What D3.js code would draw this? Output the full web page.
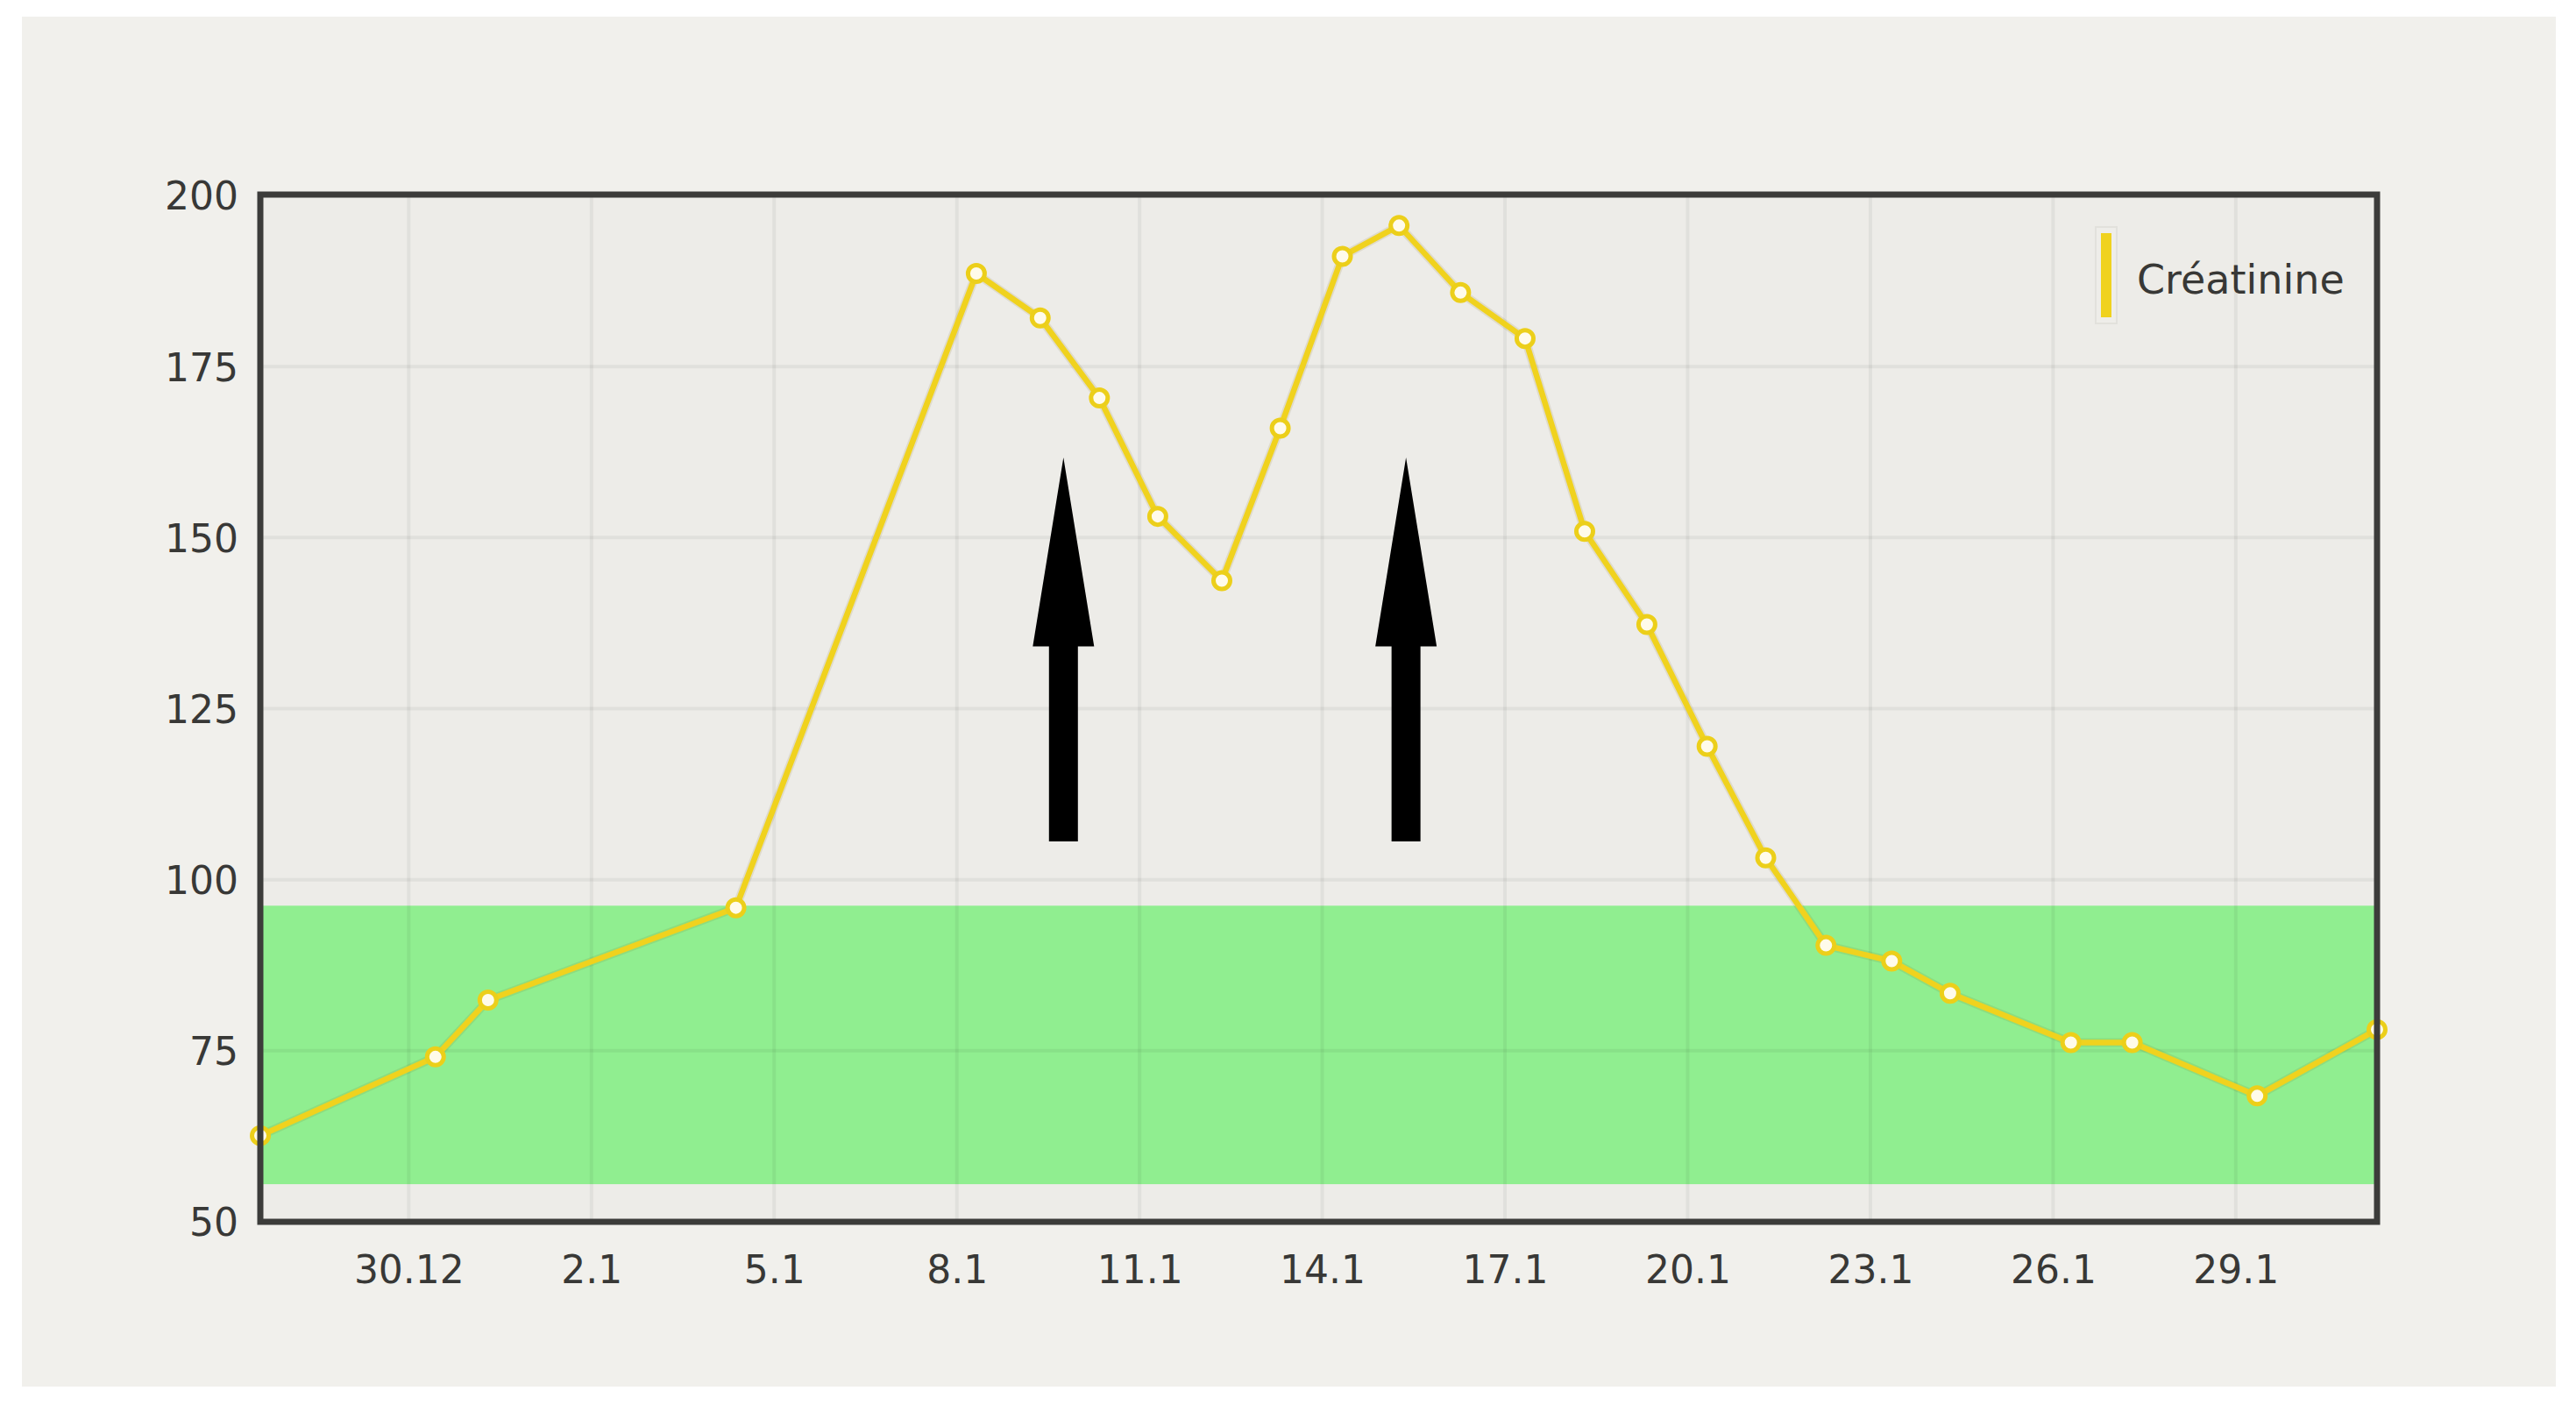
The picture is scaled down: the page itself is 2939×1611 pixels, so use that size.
<!DOCTYPE html>
<html>
<head>
<meta charset="utf-8">
<script src="https://cdn.jsdelivr.net/npm/d3@7"></script>
<style>
  html, body { margin: 0; padding: 0; background: #ffffff; }
  svg { display: block; }
</style>
</head>
<body>
<svg id="chart" width="2939" height="1611"></svg>
<script>
// ---- data ----
const seriesName = "Créatinine";
const dates = [
  "2011-12-27T13:30", "2011-12-30T10:30", "2011-12-31T07:15", "2012-01-04T08:55",
  "2012-01-08T07:40", "2012-01-09T08:50", "2012-01-10T08:10", "2012-01-11T07:10",
  "2012-01-12T08:25", "2012-01-13T07:25", "2012-01-14T07:55", "2012-01-15T06:15",
  "2012-01-16T06:30", "2012-01-17T07:55", "2012-01-18T07:25", "2012-01-19T07:55",
  "2012-01-20T07:40", "2012-01-21T06:45", "2012-01-22T06:30", "2012-01-23T08:25",
  "2012-01-24T07:25", "2012-01-26T07:00", "2012-01-27T07:10", "2012-01-29T08:25",
  "2012-01-31T07:40"
];
const values = [
  62.6, 74.1, 82.4, 95.9,
  188.6, 182.1, 170.4, 153.1,
  143.7, 166.0, 191.1, 195.6,
  185.8, 179.1, 150.9, 137.3,
  119.5, 103.2, 90.4, 88.1,
  83.4, 76.2, 76.2, 68.4,
  78.1
];
const tickDates = [
  "2011-12-30T00:00", "2012-01-02T00:00", "2012-01-05T00:00", "2012-01-08T00:00",
  "2012-01-11T00:00", "2012-01-14T00:00", "2012-01-17T00:00", "2012-01-20T00:00",
  "2012-01-23T00:00", "2012-01-26T00:00", "2012-01-29T00:00"
];
const tickLabels = ["30.12", "2.1", "5.1", "8.1", "11.1", "14.1", "17.1", "20.1", "23.1", "26.1", "29.1"];
const yTicks = [50, 75, 100, 125, 150, 175, 200];
const normalRange = [55.5, 96.2];
const arrowDates = ["2012-01-09T18:00", "2012-01-15T09:00"];
const arrowLevels = [105.6, 134.1, 161.7]; // bottom, head base, tip

(function () {
// ---- setup ----
const parse = d3.timeParse("%Y-%m-%dT%H:%M");
const data = dates.map((d, i) => ({ date: parse(d), value: values[i] }));
const ticks = tickDates.map(parse);

const svg = d3.select("#chart");
const W = 2939, H = 1611;
const pLeft = 297, pRight = 2712, pTop = 223, pBottom = 1394;

const x = d3.scaleTime().domain(d3.extent(data, d => d.date)).range([pLeft, pRight]);
const y = d3.scaleLinear().domain([50, 200]).range([pBottom, pTop]);

// page panel
svg.append("rect").attr("x", 0).attr("y", 0).attr("width", W).attr("height", H).attr("fill", "#ffffff");
svg.append("rect").attr("x", 25).attr("y", 19).attr("width", 2891).attr("height", 1563).attr("fill", "#f1f0ec");

// plot background
svg.append("rect").attr("x", pLeft).attr("y", pTop).attr("width", pRight - pLeft).attr("height", pBottom - pTop)
  .attr("fill", "#edece8");

// normal range band
svg.append("rect")
  .attr("x", pLeft).attr("width", pRight - pLeft)
  .attr("y", y(normalRange[1])).attr("height", y(normalRange[0]) - y(normalRange[1]))
  .attr("fill", "#90ee90");

// grid lines
const grid = svg.append("g");
grid.selectAll("line.v").data(ticks).join("line")
  .attr("x1", d => x(d)).attr("x2", d => x(d))
  .attr("y1", pTop).attr("y2", pBottom)
  .attr("stroke", "rgba(0,0,0,0.05)").attr("stroke-width", 4);
grid.selectAll("line.h").data(yTicks).join("line")
  .attr("x1", pLeft).attr("x2", pRight)
  .attr("y1", d => y(d)).attr("y2", d => y(d))
  .attr("stroke", "rgba(0,0,0,0.05)").attr("stroke-width", 4);

// axes (labels via d3 axes)
const yAxis = d3.axisLeft(y).tickValues(yTicks).tickSize(0).tickPadding(0).tickFormat(d3.format("d"));
const gy = svg.append("g").attr("transform", `translate(${pLeft - 25},0)`).call(yAxis);
gy.select(".domain").remove();
gy.selectAll("text")
  .attr("font-family", "'DejaVu Sans', Verdana, sans-serif")
  .attr("font-size", 44).attr("fill", "#383836").attr("dy", "0.36em");

const xAxis = d3.axisBottom(x).tickValues(ticks).tickSize(0).tickPadding(0)
  .tickFormat((d, i) => tickLabels[i]);
const gx = svg.append("g").attr("transform", `translate(0,${pBottom + 38})`).call(xAxis);
gx.select(".domain").remove();
gx.selectAll("text")
  .attr("font-family", "'DejaVu Sans', Verdana, sans-serif")
  .attr("font-size", 44).attr("fill", "#383836").attr("dy", "0.72em");

// arrows
const arrowG = svg.append("g");
arrowDates.forEach(ad => {
  const cx = x(parse(ad));
  const yb = y(arrowLevels[0]), yh = y(arrowLevels[1]), yt = y(arrowLevels[2]);
  const sw = 16.5, hw = 35;
  const pts = [
    [cx - sw, yb], [cx - sw, yh], [cx - hw, yh], [cx, yt],
    [cx + hw, yh], [cx + sw, yh], [cx + sw, yb]
  ];
  arrowG.append("polygon").attr("points", pts.map(p => p.join(",")).join(" ")).attr("fill", "#000000");
});

// series line
const line = d3.line().x(d => x(d.date)).y(d => y(d.value));
svg.append("path").datum(data)
  .attr("d", line).attr("fill", "none")
  .attr("stroke", "rgba(120,100,0,0.12)").attr("stroke-width", 10)
  .attr("stroke-linejoin", "round");
svg.append("path").datum(data)
  .attr("d", line).attr("fill", "none")
  .attr("stroke", "#f0d21e").attr("stroke-width", 6.5)
  .attr("stroke-linejoin", "round");

// markers
svg.selectAll("circle.pt").data(data).join("circle")
  .attr("cx", d => x(d.date)).attr("cy", d => y(d.value))
  .attr("r", 9.5).attr("fill", "#fffbea")
  .attr("stroke", "#eccf1a").attr("stroke-width", 5);

// frame
svg.append("rect").attr("x", pLeft).attr("y", pTop - 1).attr("width", pRight - pLeft).attr("height", pBottom - pTop + 1)
  .attr("fill", "none").attr("stroke", "#3c3c3a").attr("stroke-width", 7);

// legend
const lg = svg.append("g");
lg.append("rect").attr("x", 2391).attr("y", 259).attr("width", 24).attr("height", 110)
  .attr("fill", "#eeede9").attr("stroke", "#e2e1dc").attr("stroke-width", 2);
lg.append("rect").attr("x", 2397).attr("y", 266).attr("width", 12).attr("height", 96)
  .attr("fill", "#f0d21e");
lg.append("text").attr("x", 2438).attr("y", 335)
  .attr("font-family", "'DejaVu Sans', Verdana, sans-serif")
  .attr("font-size", 46).attr("fill", "#383836")
  .text(seriesName);
})();
</script>
</body>
</html>
